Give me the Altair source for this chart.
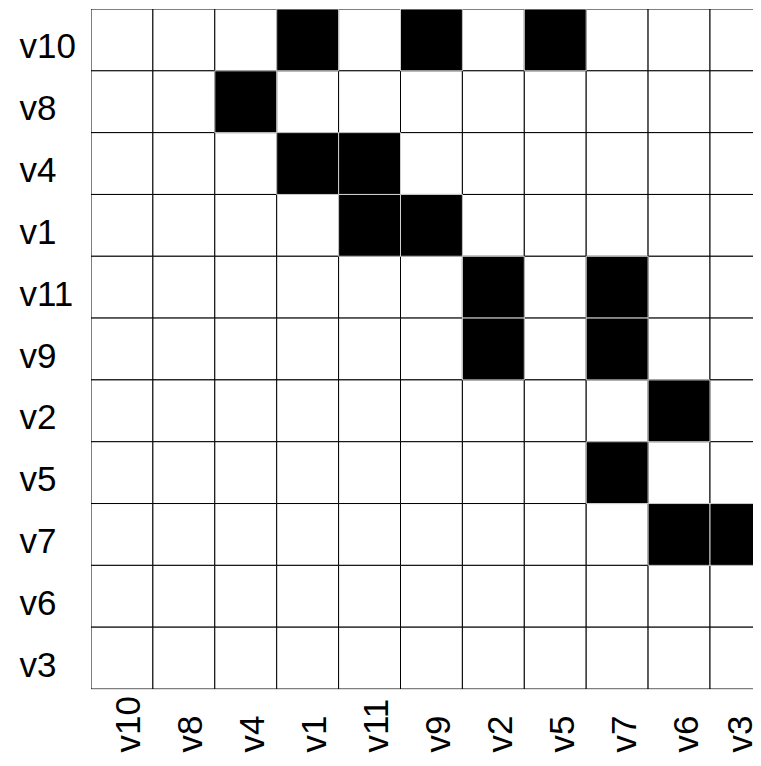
import json
import altair as alt
import pandas as pd

# node order (rows top->bottom, columns left->right)
nodes = ["v10", "v8", "v4", "v1", "v11", "v9", "v2", "v5", "v7", "v6", "v3"]

# filled cells: (row node, column node)
edge_from = ["v10", "v10", "v10", "v8", "v4", "v4", "v1", "v1", "v11", "v11", "v9", "v9", "v2", "v5", "v7", "v7"]
edge_to   = ["v1",  "v9",  "v5",  "v4", "v1", "v11", "v11", "v9", "v2", "v7", "v2", "v7", "v6", "v7", "v6", "v3"]

edges = set(zip(edge_from, edge_to))
rows = []
for i, r in enumerate(nodes):
    for j, c in enumerate(nodes):
        rows.append({"row": r, "col": c, "ri": i, "ri2": i + 1, "ci": j, "ci2": j + 1,
                     "filled": 1 if (r, c) in edges else 0})
df = pd.DataFrame(rows).sort_values("filled", kind="stable")

n = len(nodes)
cell = 61.9
W = 662
H = 680
xmax = W / cell

label_expr = json.dumps(nodes) + "[floor(datum.value)]"
tick_vals = [k + 0.5 for k in range(n)]
FONT = "Liberation Sans"
FS = 35

chart = alt.Chart(df).mark_rect(clip=True, strokeWidth=1).encode(
    x=alt.X("ci:Q", scale=alt.Scale(domain=[0, xmax], nice=False, zero=False),
            axis=alt.Axis(values=tick_vals, labelExpr=label_expr, title=None, grid=False,
                          ticks=False, tickSize=0, domain=False, labelAngle=270,
                          labelAlign="left", labelBaseline="alphabetic", labelPadding=63,
                          labelOffset={"condition": {"test": "datum.value > 10", "value": 11}, "value": 18},
                          labelFlush=False, labelOverlap=False, labelBound=False,
                          labelFont=FONT, labelFontSize=FS, labelColor="black")),
    x2="ci2:Q",
    y=alt.Y("ri:Q", scale=alt.Scale(domain=[0, n], nice=False, zero=False, reverse=True),
            axis=alt.Axis(values=tick_vals, labelExpr=label_expr, title=None, grid=False,
                          ticks=False, tickSize=0, domain=False, labelAlign="left",
                          labelBaseline="alphabetic", labelPadding=72, labelOffset=18,
                          labelFlush=False, labelOverlap=False, labelBound=False,
                          labelFont=FONT, labelFontSize=FS, labelColor="black")),
    y2="ri2:Q",
    fill=alt.condition("datum.filled == 1", alt.value("black"), alt.value("white")),
    stroke=alt.condition("datum.filled == 1", alt.value("#d0d0d0"), alt.value("black")),
).properties(
    width=W, height=H,
    autosize=alt.AutoSizeParams(type="none"),
    padding={"left": 83, "top": 1, "right": 0, "bottom": 64},
).configure_view(stroke=None).configure(background="white")

chart.save("out.html", embed_options={"renderer": "svg", "actions": False})
